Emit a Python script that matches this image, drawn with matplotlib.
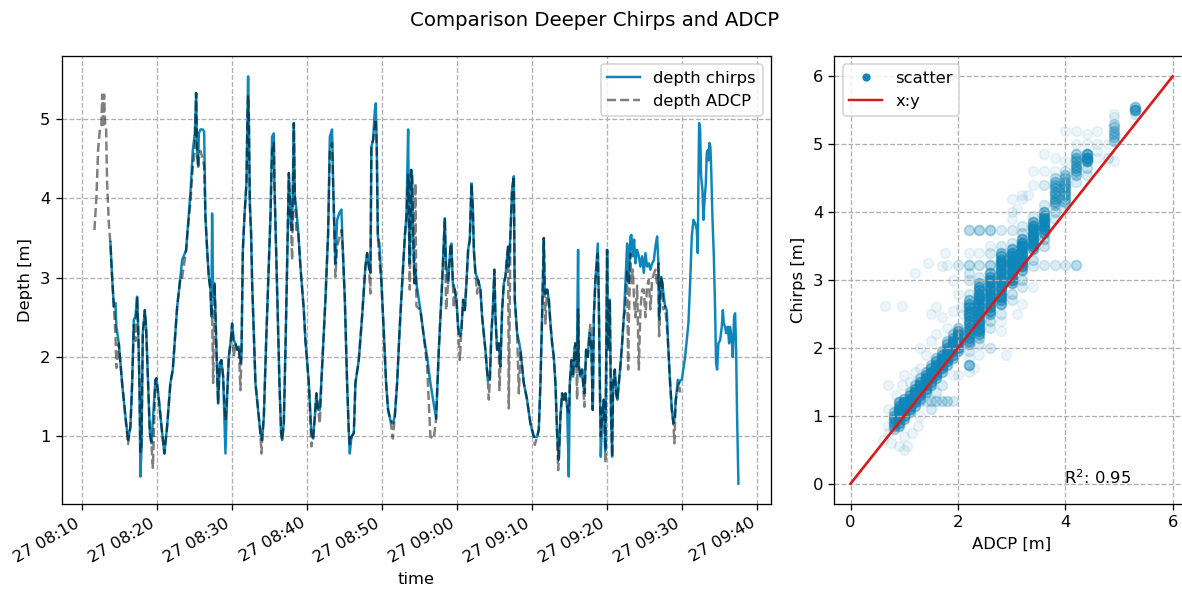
import numpy as np
import pandas as pd
import matplotlib
matplotlib.use("Agg")
import matplotlib.pyplot as plt
import matplotlib.dates as mdates
from matplotlib.lines import Line2D

nan = np.nan

# ---------------- time series data ----------------
start_time = "2022-05-27 08:10:00"
# minutes after 08:10
minutes = [
    1.60, 1.73, 1.87, 2.09, 2.32, 2.53, 2.63, 2.76, 2.89, 3.03, 3.16, 3.29, 3.52,
    3.73, 3.96, 4.19, 4.40, 4.53, 4.85, 5.29, 5.73, 6.09, 6.40, 6.63, 6.85, 7.07,
    7.29, 7.43, 7.60, 7.73, 7.87, 8.05, 8.32, 8.49, 8.76, 8.99, 9.20, 9.39, 9.73,
    9.87, 10.19, 10.63, 10.93, 11.29, 11.73, 12.05, 12.63, 13.07, 13.29, 13.83,
    13.96, 14.40, 14.72, 14.99, 15.16, 15.29, 15.43, 15.52, 15.73, 16.05, 16.23,
    16.40, 16.63, 16.85, 17.07, 17.20, 17.29, 17.43, 17.60, 17.73, 17.87, 18.09,
    18.32, 18.53, 18.76, 19.07, 19.29, 19.52, 19.79, 19.96, 20.19, 20.40, 20.63,
    20.85, 21.07, 21.20, 21.39, 21.60, 21.87, 22.00, 22.09, 22.19, 22.32, 22.49,
    22.63, 22.85, 23.07, 23.43, 23.73, 23.87, 23.96, 24.19, 24.49, 24.76, 25.07,
    25.29, 25.52, 25.60, 25.83, 26.05, 26.27, 26.49, 26.63, 26.85, 27.07, 27.29,
    27.52, 27.65, 27.79, 27.96, 28.19, 28.32, 28.53, 28.76, 29.07, 29.52, 29.73,
    30.19, 30.53, 30.76, 30.99, 31.20, 31.43, 31.65, 31.96, 32.40, 32.76, 32.99,
    33.29, 33.43, 33.60, 33.73, 33.96, 34.27, 34.53, 34.72, 34.99, 35.29, 35.52,
    35.65, 35.87, 36.19, 36.40, 36.85, 37.29, 37.73, 37.96, 38.19, 38.40, 38.53,
    38.76, 38.99, 39.12, 39.25, 39.39, 39.60, 39.87, 40.19, 40.49, 40.76, 41.07,
    41.39, 41.65, 41.96, 42.27, 42.63, 42.99, 43.20, 43.43, 43.52, 43.65, 43.83,
    43.96, 44.09, 44.27, 44.40, 44.53, 45.07, 45.52, 45.96, 46.40, 46.85, 47.16,
    47.52, 47.96, 48.32, 48.49, 48.76, 49.07, 49.20, 49.39, 49.52, 49.65, 49.87,
    50.09, 50.32, 50.53, 50.76, 50.99, 51.20, 51.43, 51.65, 51.87, 52.05, 52.19,
    52.40, 52.63, 52.76, 53.07, 53.29, 53.73, 54.05, 54.19, 54.32, 54.53, 54.72,
    54.93, 55.07, 55.29, 55.52, 55.60, 55.73, 55.96, 56.19, 56.40, 56.63, 56.76,
    56.85, 57.07, 57.29, 57.52, 57.65, 57.96, 58.19, 58.40, 58.85, 59.29, 59.73,
    60.19, 60.32, 60.63, 60.85, 61.07, 61.29, 61.52, 61.65, 61.73, 61.96, 62.19,
    62.40, 62.63, 62.85, 63.07, 63.29, 63.43, 63.52, 63.73, 63.96, 64.19, 64.40,
    64.63, 64.85, 64.99, 65.20, 65.43, 65.60, 65.73, 65.87, 65.96, 66.09, 66.19,
    66.40, 66.63, 66.76, 66.93, 67.16, 67.39, 67.60, 67.73, 67.87, 68.05, 68.19,
    68.40, 68.72, 68.85, 68.99, 69.12, 69.29, 69.52, 69.73, 69.96, 70.09, 70.32,
    70.49, 70.63, 70.76, 70.99, 71.16, 71.33, 71.52, 71.73, 71.96, 72.19, 72.40,
    72.63, 72.76, 72.85, 73.07, 73.20, 73.39, 73.56, 73.73, 73.96, 74.19, 74.40,
    74.63, 74.85, 75.07, 75.29, 75.52, 75.73, 75.96, 76.19, 76.40, 76.63, 76.80,
    76.89, 77.16, 77.33, 77.47, 77.69, 77.92, 78.13, 78.36, 78.59, 78.80, 78.93,
    79.12, 79.39, 79.56, 79.69, 79.92, 80.36, 80.80, 81.03, 81.25, 81.47, 81.69,
    81.92, 82.05, 82.13, 82.23, 82.36, 82.49, 82.67, 82.80, 82.93, 83.12, 83.25,
    83.39, 83.47, 83.60, 83.73, 83.83, 84.00, 84.19, 84.36, 84.49, 84.63, 84.80,
    85.03, 85.25, 85.39, 85.52, 85.69, 85.83, 86.05, 86.23, 86.36, 86.59, 86.72,
    86.89, 87.03, 87.16, 87.29, 87.47,
]
depth_chirps = [
    nan, nan, nan, nan, nan, nan, nan, nan, nan, nan, nan, nan, nan,
    3.45, 3.00, 2.63, 2.68, 2.38, 2.17, 1.67, 1.25, 0.95, 1.12, 1.67, 2.47, 2.51,
    2.76, 2.38, 1.67, 0.49, 0.82, 2.30, 2.59, 2.38, 1.67, 1.04, 0.91, 1.20, 1.71,
    1.73, 1.46, 1.04, 0.78, 1.12, 1.67, 1.84, 2.63, 3.01, 3.22, 3.35,
    3.52, 4.07, 4.61, 4.82, 5.33, 4.61, 4.40, 4.82, 4.87, 4.87, 4.84,
    3.77, 3.35, 3.01, 2.85, 2.51, 3.81, 2.76, 2.93, 2.59, 2.09, 1.41,
    1.92, 1.96, 1.75, 0.78, 1.50, 2.00, 2.21, 2.42, 2.21, 2.17, 2.09,
    2.13, 1.92, 2.00, 3.35, 3.77, 4.19, 5.03, 5.54, 5.03, 3.94, 3.56,
    2.93, 2.30, 1.67, 1.33, 1.04, 0.97, 0.95, 1.25, 2.17, 2.93, 3.77,
    4.78, 4.82, 4.19, 3.35, 2.51, 1.67, 1.04, 0.95, 1.16, 2.09, 3.14,
    4.32, 4.02, 3.69, 3.60, 4.95, 4.02, 3.86, 3.60, 3.14, 2.59, 2.21,
    1.67, 1.04, 0.97, 1.25, 1.54, 1.33, 1.33, 1.88, 2.72, 3.56, 4.78,
    4.87, 4.19, 3.56, 3.18, 3.73, 3.82, 3.86, 3.35, 2.72, 1.67, 1.04,
    0.78, 0.99, 1.04, 1.67, 1.96, 2.51, 3.14, 3.31, 3.14, 3.06, 4.65,
    4.74, 5.12, 5.20, 4.61, 3.52, 3.43, 2.93, 2.30, 1.67, 1.33, 1.20,
    1.16, 1.25, 1.67, 2.30, 2.93, 3.52, 3.77, 4.87, 3.77, 3.18, 4.36,
    4.28, 3.56, 2.93, 3.10, 2.93, 2.59, 2.26, 2.00, 1.67, 1.40, 1.22,
    2.09, 2.93, 3.75, 3.18, 2.93, 3.39, 3.43, 2.93, 2.90, 2.85, 2.72,
    2.38, 2.26, 2.34, 2.72, 2.59, 2.93, 3.35, 3.48, 4.19, 3.90, 3.35,
    3.06, 3.00, 2.97, 2.85, 2.51, 2.09, 1.71, 1.71, 1.71, 2.30, 2.59,
    3.10, 2.51, 2.09, 2.17, 2.05, 1.88, 2.59, 2.93, 3.01, 3.27, 3.39,
    3.14, 3.56, 4.11, 4.28, 2.72, 2.30, 2.20, 2.09, 1.67, 1.46, 1.16,
    0.99, 0.99, 0.99, 1.08, 1.67, 2.51, 3.50, 2.80, 2.80, 2.85, 2.72,
    2.42, 2.17, 2.00, 1.67, 1.04, 0.80, 0.70, 1.25, 1.54, 1.46, 1.54,
    1.37, 0.49, 1.67, 1.96, 1.75, 2.09, 2.17, 1.88, 2.20, 3.35, 1.88,
    1.75, 1.84, 1.67, 1.54, 2.09, 2.00, 2.30, 2.25, 2.09, 1.33, 2.51,
    2.97, 3.43, 2.72, 1.67, 0.74, 1.25, 1.46, 0.82, 3.35, 2.09, 2.72,
    1.25, 0.74, 1.67, 1.84, 1.54, 1.46, 1.67, 1.88, 2.17, 2.51, 2.93,
    3.43, 3.20, 2.93, 3.52, 3.54, 3.27, 3.48, 3.18, 3.35, 3.27, 3.14,
    3.27, 3.06, 3.31, 3.14, 3.18, 3.10, 3.18, 3.22, 3.39, 3.52, 3.18,
    2.47, 3.01, 2.93, 2.80, 2.64, 2.59, 2.09, 1.67, 1.33, 1.16, 1.20,
    1.46, 1.71, 1.67, 1.70, 1.71, 2.00, 2.42, 2.93, 3.52, 3.73, 3.69,
    3.60, 3.31, 4.19, 4.95, 4.87, 4.28, 4.11, 3.73, 3.94, 4.19, 4.57,
    4.61, 4.48, 4.70, 4.65, 4.40, 3.77, 3.27, 2.59, 1.92, 1.84, 2.17,
    2.21, 2.38, 2.59, 2.42, 2.38, 2.30, 2.38, 2.17, 2.38, 2.21, 2.00,
    2.51, 2.55, 2.09, 1.25, 0.40,
]
depth_adcp = [
    3.60, 3.81, 4.02, 4.61, 4.87, 4.92, 5.31, 4.90, 5.31, 4.92, 4.87, 4.19, 3.69,
    3.43, 3.00, 2.63, 2.30, 1.86, 2.17, 1.67, 1.25, 0.90, 1.12, 1.67, 2.40, 2.20,
    2.76, 2.38, 1.67, 0.80, 0.82, 2.30, 2.59, 2.38, 1.67, 1.04, 0.91, 0.60, 1.71,
    1.73, 1.46, 1.04, 0.78, 1.12, 1.67, 1.84, 2.63, 3.01, 3.00, 3.35,
    3.52, 3.95, 4.40, 4.60, 5.33, 4.61, 4.40, 4.50, 4.60, 4.50, 4.40,
    3.77, 3.35, 3.01, 2.85, 2.51, 2.60, 1.67, 2.93, 2.59, 2.09, 1.41,
    1.92, 1.96, 1.75, 1.20, 1.50, 2.00, 2.21, 2.42, 2.00, 2.17, 2.09,
    2.13, 1.58, 2.00, 3.35, 3.77, 4.19, 5.03, 5.30, 5.03, 3.94, 3.56,
    2.93, 2.30, 1.67, 1.33, 1.04, 0.78, 0.95, 1.25, 2.17, 2.93, 3.77,
    4.60, 4.70, 4.19, 3.35, 2.51, 1.67, 1.04, 0.95, 1.16, 2.09, 3.14,
    4.32, 4.02, 3.69, 3.22, 4.95, 4.02, 3.60, 3.60, 3.14, 2.59, 2.21,
    1.67, 0.87, 0.97, 1.25, 1.54, 1.33, 1.16, 1.88, 2.72, 3.56, 4.60,
    4.70, 4.19, 3.56, 3.01, 3.40, 3.50, 3.60, 3.35, 2.72, 1.67, 1.04,
    0.90, 0.99, 1.04, 1.67, 1.96, 2.51, 3.14, 3.31, 3.14, 2.80, 4.65,
    4.74, 4.90, 5.00, 4.61, 3.52, 3.22, 2.93, 2.30, 1.67, 1.33, 1.20,
    0.97, 1.25, 1.67, 2.30, 2.93, 3.52, 3.77, 4.30, 3.77, 2.85, 4.36,
    4.28, 3.56, 2.93, 4.19, 2.64, 2.59, 2.26, 1.88, 0.99, 0.97, 1.22,
    2.09, 2.93, 3.75, 2.59, 2.93, 3.39, 3.43, 2.93, 2.62, 2.85, 2.72,
    2.38, 1.96, 2.34, 2.72, 2.59, 2.93, 3.35, 3.48, 4.19, 3.90, 3.35,
    3.06, 2.80, 2.97, 2.85, 2.51, 2.09, 1.71, 1.46, 1.71, 2.30, 2.59,
    3.10, 2.51, 2.09, 2.17, 1.58, 1.88, 2.59, 2.93, 3.01, 3.27, 3.39,
    1.35, 3.56, 4.11, 4.28, 2.72, 2.30, 1.54, 2.09, 1.67, 1.46, 1.16,
    0.99, 0.89, 0.99, 1.08, 1.67, 2.51, 3.50, 2.80, 2.42, 2.85, 2.72,
    2.42, 2.17, 2.00, 1.67, 1.04, 0.57, 0.70, 1.25, 1.54, 1.46, 1.54,
    1.37, 1.30, 1.67, 1.96, 1.75, 2.09, 2.17, 1.88, 1.46, 2.60, 1.88,
    1.75, 1.84, 1.67, 1.37, 2.09, 2.00, 2.30, 2.42, 2.09, 1.33, 2.51,
    2.97, 3.30, 2.72, 1.67, 1.00, 1.25, 1.46, 0.66, 3.35, 2.09, 2.72,
    1.25, 0.74, 1.67, 1.84, 1.54, 1.46, 1.67, 1.88, 2.17, 2.51, 2.60,
    3.10, 1.84, 2.40, 3.30, 2.93, 3.10, 2.70, 2.50, 2.90, 1.84, 2.60,
    2.85, 2.85, 2.50, 2.90, 2.97, 2.60, 2.97, 3.05, 3.10, 2.90, 3.18,
    2.26, 3.01, 2.93, 2.60, 2.64, 2.40, 2.09, 1.67, 1.33, 1.16, 0.91,
    1.46, 1.60, 1.67, 1.55, nan, nan, nan, nan, nan, nan, nan,
    nan, nan, nan, nan, nan, nan, nan, nan, nan, nan, nan,
    nan, nan, nan, nan, nan, nan, nan, nan, nan, nan, nan,
    nan, nan, nan, nan, nan, nan, nan, nan, nan, nan, nan,
    nan, nan, nan, nan, nan,
]

# ---------------- scatter data (ADCP column -> chirps values, counts) ----------------
column_adcp = [0.8, 0.9, 1.0, 1.1, 1.2, 1.3, 1.4, 1.5, 1.6, 1.7, 1.8, 1.9, 2.0,
               2.2, 2.4, 2.6, 2.8, 3.0, 3.2, 3.4, 3.6, 3.8, 4.0, 4.2, 4.4, 4.6,
               4.8, 4.9, 5.3]
column_chirps = [
    [0.80, 0.85, 0.90, 0.95, 1.00, 1.05],
    [0.85, 0.90, 0.95, 1.00, 1.05, 1.10, 1.15, 1.20],
    [0.95, 1.00, 1.05, 1.10, 1.15, 1.20, 1.25],
    [1.05, 1.10, 1.15, 1.20, 1.25, 1.30, 1.35],
    [1.15, 1.20, 1.25, 1.30, 1.35, 1.40, 1.45],
    [1.22, 1.25, 1.30, 1.35, 1.40, 1.45, 1.50, 1.55],
    [1.22, 1.35, 1.40, 1.45, 1.50, 1.55, 1.60, 1.65],
    [1.10, 1.22, 1.45, 1.50, 1.55, 1.60, 1.65, 1.70, 1.75],
    [1.22, 1.35, 1.55, 1.60, 1.65, 1.70, 1.75, 1.80, 1.85],
    [1.22, 1.45, 1.65, 1.70, 1.75, 1.80, 1.85, 1.90, 1.95],
    [1.22, 1.75, 1.80, 1.85, 1.90, 1.95, 2.00, 2.05, 2.10, 3.22],
    [1.22, 1.60, 1.85, 1.90, 1.95, 2.00, 2.05, 2.10, 2.15, 2.20],
    [1.60, 1.95, 2.00, 2.05, 2.10, 2.15, 2.20, 2.25, 2.30, 2.80, 3.22],
    [1.65, 1.75, 1.85, 1.95, 2.05, 2.10, 2.15, 2.20, 2.25, 2.30, 2.35, 2.40,
     2.45, 2.50, 2.55, 2.60, 2.65, 2.70, 2.80, 3.00, 3.10, 3.22, 3.40, 3.74],
    [2.05, 2.15, 2.20, 2.25, 2.30, 2.35, 2.40, 2.45, 2.50, 2.55, 2.60, 2.65,
     2.70, 2.75, 2.80, 2.85, 2.90, 2.95, 3.05, 3.22, 3.40, 3.74],
    [2.00, 2.30, 2.40, 2.50, 2.55, 2.60, 2.65, 2.70, 2.75, 2.80, 2.85, 2.90,
     2.95, 3.00, 3.05, 3.10, 3.22, 3.40, 3.74],
    [2.40, 2.50, 2.64, 2.70, 2.75, 2.80, 2.85, 2.90, 2.95, 3.00, 3.05, 3.10,
     3.15, 3.20, 3.25, 3.30, 3.35, 3.40, 3.50, 3.74],
    [2.70, 2.80, 2.95, 3.00, 3.05, 3.10, 3.15, 3.20, 3.25, 3.30, 3.35, 3.40,
     3.45, 3.55, 3.74, 3.90, 4.00],
    [2.90, 3.00, 3.15, 3.20, 3.25, 3.30, 3.35, 3.40, 3.45, 3.50, 3.55, 3.60,
     3.70, 3.80, 4.20, 4.25],
    [3.20, 3.30, 3.45, 3.50, 3.55, 3.60, 3.65, 3.70, 3.75, 3.80, 3.85, 3.95,
     4.40, 4.60],
    [3.22, 3.50, 3.60, 3.70, 3.75, 3.80, 3.85, 3.90, 3.95, 4.00, 4.10, 4.40,
     4.60, 4.85],
    [3.22, 3.90, 4.00, 4.10, 4.15, 4.20, 4.25, 4.30, 4.35, 4.40, 4.45, 4.50,
     4.60, 4.80],
    [3.22, 4.05, 4.15, 4.20, 4.25, 4.30, 4.35, 4.40, 4.45, 4.50, 4.55, 4.60,
     4.75, 5.20],
    [3.22, 4.45, 4.55, 4.60, 4.65, 4.70, 4.75, 4.80, 4.85, 5.00, 5.20],
    [4.55, 4.65, 4.75, 4.80, 4.85, 5.00, 5.15],
    [4.80, 4.90, 5.00, 5.20],
    [4.80, 5.00],
    [4.75, 5.05, 5.10, 5.15, 5.20, 5.25, 5.30, 5.40, 5.45],
    [5.45, 5.50, 5.55],
]
column_counts = [
    [4, 6, 8, 8, 6, 4],
    [6, 8, 10, 10, 10, 10, 8, 8],
    [6, 10, 12, 12, 12, 12, 6],
    [6, 10, 12, 12, 10, 8, 4],
    [6, 10, 12, 12, 10, 8, 4],
    [2, 6, 10, 12, 12, 10, 8, 4],
    [2, 6, 10, 12, 12, 10, 8, 4],
    [1, 3, 6, 10, 12, 12, 10, 8, 4],
    [3, 1, 6, 10, 12, 12, 10, 8, 4],
    [3, 1, 6, 10, 12, 12, 10, 8, 4],
    [3, 6, 10, 12, 12, 10, 8, 6, 4, 1],
    [2, 1, 6, 10, 12, 12, 10, 8, 6, 4],
    [1, 6, 10, 12, 12, 10, 10, 8, 4, 1, 2],
    [1, 8, 1, 2, 6, 8, 8, 8, 8, 8, 8, 8, 8, 8, 8, 8, 8, 6, 2, 2, 2, 4, 1, 4],
    [2, 4, 8, 10, 10, 10, 10, 10, 10, 10, 10, 10, 10, 10, 10, 8, 8, 6, 2, 3, 1, 5],
    [1, 2, 3, 6, 10, 10, 10, 10, 10, 10, 10, 10, 10, 10, 8, 8, 5, 2, 5],
    [1, 2, 8, 8, 10, 10, 10, 10, 10, 10, 10, 10, 10, 10, 10, 10, 8, 6, 2, 2],
    [2, 3, 8, 12, 12, 12, 12, 12, 12, 12, 12, 12, 8, 2, 2, 1, 1],
    [2, 3, 8, 12, 12, 12, 12, 12, 12, 12, 12, 8, 3, 2, 1, 1],
    [2, 3, 8, 12, 12, 12, 12, 12, 12, 12, 8, 2, 1, 1],
    [2, 3, 4, 10, 12, 12, 12, 12, 10, 8, 2, 2, 1, 1],
    [2, 2, 3, 5, 6, 6, 6, 6, 6, 5, 5, 3, 1, 1],
    [2, 2, 5, 5, 6, 6, 6, 6, 5, 5, 4, 2, 1, 1],
    [4, 2, 5, 6, 6, 6, 6, 6, 5, 1, 1],
    [2, 3, 12, 14, 12, 1, 1],
    [1, 1, 1, 1],
    [2, 1],
    [1, 4, 4, 4, 4, 4, 3, 1, 1],
    [2, 12, 6],
]
# isolated single observations
halo_adcp = [0.6, 0.7, 0.7, 0.7, 0.75, 0.9, 1.0, 1.05, 1.0, 1.15, 1.25, 1.3,
             0.85, 0.7, 0.95, 1.1, 1.2, 1.0, 1.4, 1.3, 1.5, 1.6, 1.8, 1.7, 1.5,
             1.9, 0.65, 0.95, 1.45, 1.2, 1.7, 1.9, 1.75, 2.05, 1.6, 1.7, 1.5,
             2.3, 2.4, 2.6, 2.8, 3.1, 3.2, 3.4, 2.9, 3.1, 3.3, 2.5, 2.1, 1.6,
             1.3, 2.6, 3.0]
halo_chirps = [0.65, 0.75, 0.85, 1.10, 0.60, 0.55, 0.50, 0.55, 0.70, 0.75, 0.85,
               1.00, 1.30, 1.45, 1.45, 1.50, 1.65, 1.60, 1.90, 2.00, 2.10, 2.20,
               2.30, 2.45, 2.50, 2.55, 2.62, 2.62, 3.25, 3.10, 3.20, 3.00, 3.40,
               2.60, 1.35, 1.45, 1.10, 1.70, 1.90, 2.00, 2.25, 2.50, 2.65, 2.90,
               1.90, 4.05, 4.25, 2.45, 2.50, 2.60, 1.70, 3.50, 4.20]

r2_value = 0.95
line_x = [0, 6]
line_y = [0, 6]

# ---------------- styling ----------------
BLUE = "#0e86b9"
RED = "#d41c1c"

fig = plt.figure(figsize=(10, 5), dpi=118.2)
ax1 = fig.add_axes([0.0525, 0.1472, 0.5996, 0.758])
ax2 = fig.add_axes([0.706, 0.1472, 0.2997, 0.758])

times = (pd.Timestamp(start_time) + pd.to_timedelta(minutes, unit="min")).to_numpy()

ax1.plot(times, depth_chirps, color=BLUE, lw=1.5, label="depth chirps")
ax1.plot(times, depth_adcp, color="k", alpha=0.5, ls="--", lw=1.5, label="depth ADCP")
ax1.set_xlim(np.datetime64("2022-05-27T08:07:17"), np.datetime64("2022-05-27T09:41:47"))
ax1.xaxis.set_major_locator(mdates.MinuteLocator(byminute=range(0, 60, 10)))
ax1.xaxis.set_major_formatter(mdates.DateFormatter("%d %H:%M"))
for lbl in ax1.get_xticklabels():
    lbl.set_rotation(30)
    lbl.set_ha("right")
ax1.set_xlabel("time")
ax1.set_ylabel("Depth [m]")
ax1.grid(True, ls="--", color="#b0b0b0", lw=0.8)
ax1.legend(loc="upper right")

# scatter: repeated observations stack up with transparency
sx = np.concatenate([np.repeat(x, len(ys)) for x, ys in zip(column_adcp, column_chirps)])
sy = np.concatenate([np.array(ys) for ys in column_chirps])
sn = np.concatenate([np.array(ns) for ns in column_counts])
sx = np.concatenate([np.repeat(sx, sn), halo_adcp])
sy = np.concatenate([np.repeat(sy, sn), halo_chirps])
ax2.scatter(sx, sy, s=36, color=BLUE, alpha=0.08, linewidths=1.0)
ax2.plot(line_x, line_y, color=RED, lw=1.6)
ax2.set_xlim(-0.3, 6.3)
ax2.set_ylim(-0.3, 6.3)
ax2.set_xticks([0, 2, 4, 6])
ax2.set_yticks([0, 1, 2, 3, 4, 5, 6])
ax2.set_xlabel("ADCP [m]")
ax2.set_ylabel("Chirps [m]")
ax2.grid(True, ls="--", color="#b0b0b0", lw=0.8)
ax2.text(3.97, 0.0, "R$^2$: %.2f" % r2_value, fontsize=10)
handles = [Line2D([], [], marker="o", ls="none", color=BLUE, markersize=4),
           Line2D([], [], color=RED, lw=1.5)]
ax2.legend(handles, ["scatter", "x:y"], loc="upper left")

fig.suptitle("Comparison Deeper Chirps and ADCP", x=0.503, y=0.966, va="center", fontsize=12)

fig.savefig("out.png", dpi=118.2)
